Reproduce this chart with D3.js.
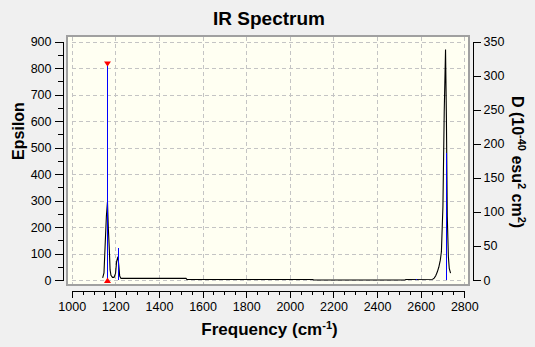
<!DOCTYPE html>
<html>
<head>
<meta charset="utf-8">
<script src="https://cdn.jsdelivr.net/npm/d3@7"></script>
<style>
  body { margin: 0; background: #f0f0f0; }
  svg { display: block; }
  text { font-family: "Liberation Sans", Arial, sans-serif; }
</style>
</head>
<body>
<svg id="chart" width="535" height="347"></svg>
<script>
// Broadened IR spectrum (frequency in cm^-1, molar absorptivity epsilon)
const spectrumFreq = [1142, 1148, 1153, 1159, 1164, 1168, 1172, 1176, 1180, 1187, 1194, 1201, 1206, 1212, 1216, 1220, 1226,
                      1524, 1528, 2105, 2110, 2528, 2532, 2655, 2662, 2669, 2676, 2683, 2690, 2695, 2702, 2708, 2714,
                      2718, 2722, 2727, 2731, 2737];
const spectrumEps  = [8, 27, 125, 240, 295, 195, 125, 38, 18, 10, 10, 25, 70, 88, 55, 15, 6,
                      6, 2, 2, 0, 0, 2, 3, 7, 16, 30, 48, 75, 107, 277, 637, 870,
                      608, 240, 88, 44, 26];

// Individual transitions: dipole strength D (10^-40 esu^2 cm^2)
const stickFreq = [1164, 1214, 2579, 2714];
const stickD    = [317, 47, 1.5, 186];

// Highlighted transition
const selectedFreq = 1164;
const selectedD = 317;

// Tick values
const freqTicks = d3.range(1000, 2801, 200);
const freqMinor = d3.range(1000, 2801, 50);
const epsTicks = d3.range(0, 901, 100);
const epsMinor = d3.range(50, 900, 100);
const dTicks = d3.range(0, 351, 50);

const svg = d3.select("#chart");
const fmt = d3.format("d");

const x = d3.scaleLinear().domain([1000, 2800]).range([71.7, 464.3]);
const yEps = d3.scaleLinear().domain([0, 900]).range([280, 41.5]);
const yD = d3.scaleLinear().domain([0, 350]).range([280, 41.5]);

// Plot background and frame
const box = { left: 66, top: 35, right: 470, bottom: 286 };
svg.append("rect")
  .attr("x", box.left + 1).attr("y", box.top + 1)
  .attr("width", box.right - box.left - 2).attr("height", box.bottom - box.top - 2)
  .attr("fill", "#fffff2");

// Dashed grid
const grid = svg.append("g").attr("stroke", "#c4c4c4").attr("stroke-dasharray", "4,3")
  .attr("shape-rendering", "crispEdges");
grid.selectAll("line.v").data(freqTicks).join("line").attr("class", "v")
  .attr("x1", d => Math.round(x(d)) + 0.5).attr("x2", d => Math.round(x(d)) + 0.5)
  .attr("y1", box.top + 2).attr("y2", box.bottom - 1);
grid.selectAll("line.h").data(epsTicks).join("line").attr("class", "h")
  .attr("y1", d => Math.round(yEps(d)) + 0.5).attr("y2", d => Math.round(yEps(d)) + 0.5)
  .attr("x1", x(1000)).attr("x2", x(2800));

// Spectrum curve
const pts = spectrumFreq.map((f, i) => [f, spectrumEps[i]]);
svg.append("path").datum(pts)
  .attr("fill", "none").attr("stroke", "#000").attr("stroke-width", 1.1)
  .attr("d", d3.line().x(d => x(d[0])).y(d => yEps(d[1])));

// Transition sticks
const sticks = stickFreq.map((f, i) => ({ f, d: stickD[i] }));
svg.append("g").selectAll("line").data(sticks).join("line")
  .attr("x1", d => Math.round(x(d.f)) + 0.5).attr("x2", d => Math.round(x(d.f)) + 0.5)
  .attr("y1", yD(0)).attr("y2", d => yD(d.d))
  .attr("stroke", "#0000ff").attr("stroke-width", 1).attr("shape-rendering", "crispEdges");

// Selection markers
const sx = Math.round(x(selectedFreq)) + 0.5;
const topY = yD(selectedD);
const botY = yD(0);
svg.append("path").attr("fill", "#ff0000")
  .attr("d", `M${sx - 3.5},${topY - 2.5}L${sx + 3.5},${topY - 2.5}L${sx},${topY + 2.5}Z`);
svg.append("path").attr("fill", "#ff0000")
  .attr("d", `M${sx - 3.5},${botY + 3}L${sx + 3.5},${botY + 3}L${sx},${botY - 2.5}Z`);

// Frame
svg.append("rect")
  .attr("x", box.left + 1).attr("y", box.top + 1)
  .attr("width", box.right - box.left - 2).attr("height", box.bottom - box.top - 2)
  .attr("fill", "none").attr("stroke", "#a0a0a0").attr("stroke-width", 2);

function styleAxis(g) {
  g.attr("font-family", null).attr("font-size", null);
  g.selectAll("text").attr("font-size", "12.5px").attr("fill", "#000");
  g.selectAll("line, path").attr("stroke", "#000").attr("shape-rendering", "crispEdges");
}

// Left axis (epsilon)
svg.append("g").attr("transform", "translate(62.5,0)")
  .call(d3.axisLeft(yEps).tickValues(epsTicks).tickFormat(fmt).tickSize(8).tickSizeOuter(0).tickPadding(3))
  .call(styleAxis);
svg.append("g").attr("transform", "translate(62.5,0)")
  .call(d3.axisLeft(yEps).tickValues(epsMinor).tickSize(5).tickSizeOuter(0).tickFormat(""))
  .call(styleAxis);

// Right axis (dipole strength)
svg.append("g").attr("transform", "translate(472.5,0)")
  .call(d3.axisRight(yD).tickValues(dTicks).tickFormat(fmt).tickSize(8).tickSizeOuter(0).tickPadding(3))
  .call(styleAxis);

// Bottom axis (frequency)
svg.append("g").attr("transform", "translate(0,290.5)")
  .call(d3.axisBottom(x).tickValues(freqTicks).tickFormat(fmt).tickSize(7).tickSizeOuter(0).tickPadding(5))
  .call(styleAxis);
svg.append("g").attr("transform", "translate(0,290.5)")
  .call(d3.axisBottom(x).tickValues(freqMinor.filter(v => v % 200 !== 0)).tickSize(4).tickSizeOuter(0).tickFormat(""))
  .call(styleAxis);

// Titles
svg.append("text").attr("x", 269).attr("y", 24.5).attr("text-anchor", "middle")
  .attr("font-size", "19px").attr("font-weight", "bold").text("IR Spectrum");

const xt = svg.append("text").attr("x", 269.5).attr("y", 335).attr("text-anchor", "middle")
  .attr("font-size", "17px").attr("font-weight", "bold");
xt.append("tspan").text("Frequency (cm");
xt.append("tspan").attr("dy", -6).attr("font-size", "11px").text("-1");
xt.append("tspan").attr("dy", 6).text(")");

svg.append("text").attr("transform", "translate(23.5,131) rotate(-90)").attr("text-anchor", "middle")
  .attr("font-size", "16px").attr("font-weight", "bold").text("Epsilon");

const rt = svg.append("text").attr("transform", "translate(512,162) rotate(90)").attr("text-anchor", "middle")
  .attr("font-size", "16px").attr("font-weight", "bold");
rt.append("tspan").text("D (10");
rt.append("tspan").attr("dy", -6).attr("font-size", "11px").text("-40");
rt.append("tspan").attr("dy", 6).text(" esu");
rt.append("tspan").attr("dy", -6).attr("font-size", "11px").text("2");
rt.append("tspan").attr("dy", 6).text(" cm");
rt.append("tspan").attr("dy", -6).attr("font-size", "11px").text("2");
rt.append("tspan").attr("dy", 6).text(")");
</script>
</body>
</html>
